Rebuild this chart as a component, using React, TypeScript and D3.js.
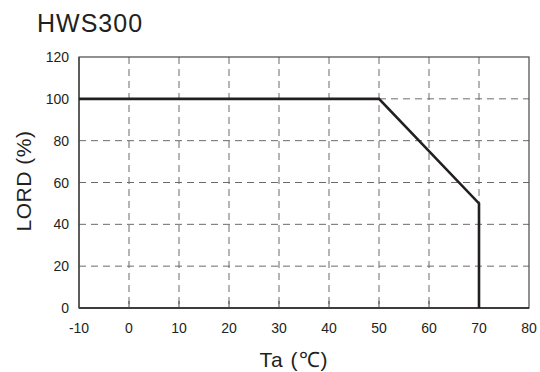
import React from "react";
import * as d3 from "d3";

const title = "HWS300";
const xLabel = "Ta (℃)";
const yLabel = "LORD (%)";
const xTicks = [-10, 0, 10, 20, 30, 40, 50, 60, 70, 80];
const yTicks = [0, 20, 40, 60, 80, 100, 120];
const temps = [-10, 50, 70, 70];
const loads = [100, 100, 50, 0];

export default function App() {
  const W = 540, H = 372;
  const L = 79, R = 529, T = 57, B = 308;
  const x = d3.scaleLinear().domain([-10, 80]).range([L, R]);
  const y = d3.scaleLinear().domain([0, 120]).range([B, T]);
  const pts = temps.map((t, i) => [t, loads[i]] as [number, number]);
  const line = d3.line<[number, number]>().x(d => x(d[0])).y(d => y(d[1]));
  const font = "Liberation Sans, Arial, sans-serif";
  return (
    <svg width={W} height={H} style={{ position: "absolute", left: 0, top: 0 }}>
      <rect width={W} height={H} fill="#fff" />
      <text x={37} y={32} fontFamily={font} fontSize={25} letterSpacing={1} fill="#231f20">{title}</text>
      {xTicks.slice(1, -1).map(t => (
        <line key={"gx" + t} x1={x(t)} x2={x(t)} y1={T} y2={B} stroke="#6d6a6a" strokeWidth={1} strokeDasharray="7,5" />
      ))}
      {yTicks.slice(1, -1).map(t => (
        <line key={"gy" + t} x1={L} x2={R} y1={y(t)} y2={y(t)} stroke="#6d6a6a" strokeWidth={1} strokeDasharray="7,5" />
      ))}
      <rect x={L} y={T} width={R - L} height={B - T} fill="none" stroke="#4a4646" strokeWidth={1.2} />
      <line x1={L} x2={R} y1={B} y2={B} stroke="#231f20" strokeWidth={1.4} />
      <line x1={L} x2={L} y1={T} y2={B} stroke="#4a4646" strokeWidth={1.4} />
      {xTicks.slice(1, -1).map(t => (
        <line key={"tx" + t} x1={x(t)} x2={x(t)} y1={B - 7} y2={B} stroke="#4a4646" strokeWidth={1} />
      ))}
      <path d={line(pts) || ""} fill="none" stroke="#231f20" strokeWidth={2.6} strokeLinejoin="miter" />
      {xTicks.map(t => (
        <text key={"lx" + t} x={x(t)} y={B + 25} textAnchor="middle" fontFamily={font} fontSize={14} fill="#231f20">{t}</text>
      ))}
      {yTicks.map(t => (
        <text key={"ly" + t} x={L - 10} y={y(t) + 5} textAnchor="end" fontFamily={font} fontSize={14} fill="#231f20">{t}</text>
      ))}
      <text x={294} y={367} textAnchor="middle" fontFamily={font} fontSize={21} letterSpacing={1} fill="#231f20">{xLabel}</text>
      <text transform={`translate(31, 181) rotate(-90)`} textAnchor="middle" fontFamily={font} fontSize={21} letterSpacing={0.5} fill="#231f20">{yLabel}</text>
    </svg>
  );
}
